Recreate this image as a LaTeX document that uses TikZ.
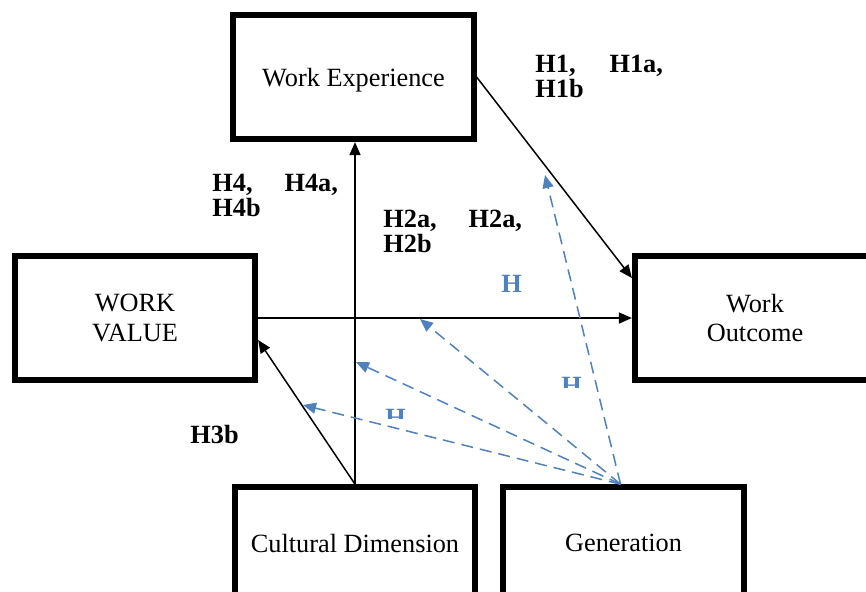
\documentclass[tikz,border=0pt]{standalone}
\usepackage{fontspec}
\setmainfont{Liberation Serif}
\usetikzlibrary{arrows.meta,calc}
\definecolor{hblue}{RGB}{79,129,189}
\begin{document}
\begin{tikzpicture}[x=.5pt,y=-.5pt,>={Triangle[length=6.5pt,width=5.5pt]},
    box/.style={draw,line width=2.85pt,minimum width=120.25pt,minimum height=62.25pt,
      align=center,inner sep=0pt,font=\fontsize{13.15}{14.8}\selectfont},
    hyp/.style={inner sep=0pt,anchor=base west,align=left,
      font=\fontsize{13.15}{12.5}\selectfont\bfseries},
    hblu/.style={hyp,text=hblue},
    link/.style={->,line width=.75pt},
    gen/.style={->,hblue,line width=.75pt,dash pattern=on 6pt off 3.5pt}]
  \clip (0,0) rectangle (866,591);
  % variables
  \node[box,text depth=0pt] (wexp) at (353.5,77) {Work Experience};
  \node[box] (wval) at (135,318) {WORK\\VALUE};
  \node[box] (wout) at (755,318) {Work\\Outcome};
  \node[box,minimum height=56pt] (cult) at (355,543) {Cultural Dimension};
  \node[box,minimum height=56pt] (gener) at (623.5,543) {Generation};
  % paths
  \draw[link] (cult.north) -- (cult.north |- wexp.south);
  \draw[link] (wval.east) -- (wval.east -| wout.west);
  \draw[link] (wexp.east) -- ($(wout.west)+(0,-40)$);
  \draw[link] (cult.north) -- ($(wval.east)+(0,22)$);
  % moderator
  \coordinate (gtop) at ($(gener.north)+(-3,0)$);
  \coordinate (m1) at (545,175);
  \coordinate (m2) at (420,319);
  \coordinate (m3) at (356,362);
  \coordinate (m4) at (303,405);
  \foreach \m in {m1,m2,m3,m4}
    \draw[gen] (gtop) -- (\m);
  % labels
  \node[hyp] (h1) at (535,97) {H1,\hspace{17pt}H1a,\\H1b};
  \node[hyp] (h4) at (212,216) {H4,\hspace{16pt}H4a,\\H4b};
  \node[hyp] (h2) at (383,252) {H2a,\hspace{16pt}H2a,\\H2b};
  \node[hyp] (h3) at (190,443) {H3b};
  \node[hblu] (hb1) at (501,292) {H};
  \begin{scope}
    \clip (540,360) rectangle (600,387);
    \node[hblu] (hb2) at (561,394) {H};
  \end{scope}
  \begin{scope}
    \clip (370,395) rectangle (420,418);
    \node[hblu] (hb3) at (385,426) {H};
  \end{scope}
\end{tikzpicture}
\end{document}
